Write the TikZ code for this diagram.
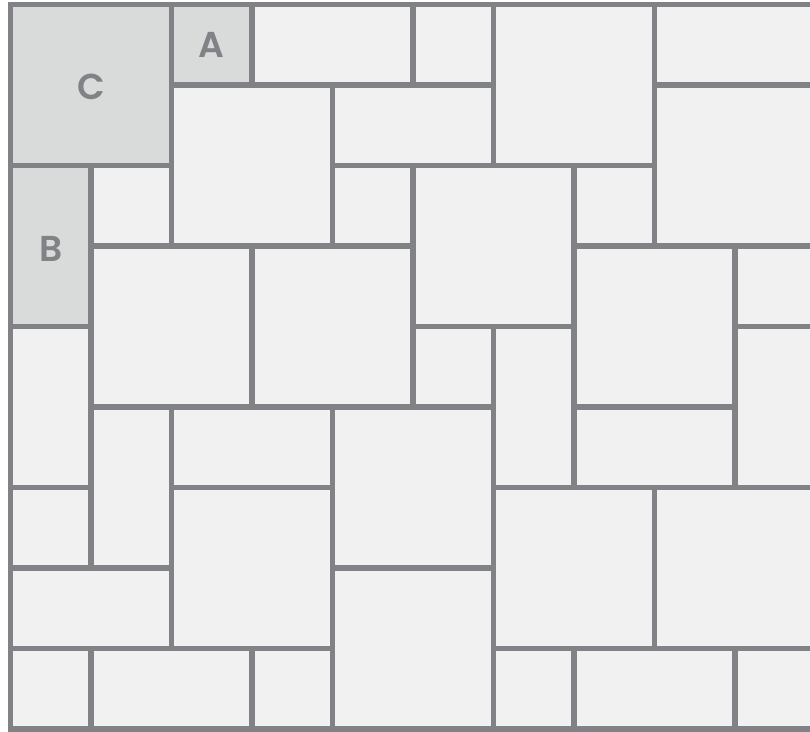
\documentclass[tikz,border=0pt]{standalone}
\usepackage{fontspec}
\newfontfamily\labelfont{Poppins}[UprightFont={* SemiBold}]
\definecolor{tileline}{HTML}{818286}
\definecolor{tilefill}{HTML}{F0F1F0}
\definecolor{tilehi}{HTML}{D9DADA}
\tikzset{
  tile/.style={draw=tileline, fill=tilefill, line width=5.5pt},
  hitile/.style={draw=tileline, fill=tilehi, line width=5.5pt},
  letter/.style={text=tileline, font=\labelfont\fontsize{36}{36}\selectfont, inner sep=0pt}
}
\newcommand{\tl}[5][tile]{\draw[#1] ({10.7+80.5*#2},{4.5+80.5*#3}) rectangle ++({80.5*#4},{80.5*#5});}
\begin{document}
\begin{tikzpicture}[x=1pt,y=-1pt]
\useasboundingbox (0,0) rectangle (810,731);
\fill[white] (0,0) rectangle (810,731);
\clip (0,0) rectangle (810,731);
% row 0
\tl[hitile]{0}{0}{2}{2}
\tl[hitile]{2}{0}{1}{1}
\tl{3}{0}{2}{1}
\tl{5}{0}{1}{1}
\tl{6}{0}{2}{2}
\tl{8}{0}{2}{1}
% row 1
\tl{2}{1}{2}{2}
\tl{4}{1}{2}{1}
\tl{8}{1}{2}{2}
% row 2
\tl[hitile]{0}{2}{1}{2}
\tl{1}{2}{1}{1}
\tl{4}{2}{1}{1}
\tl{5}{2}{2}{2}
\tl{7}{2}{1}{1}
% row 3
\tl{1}{3}{2}{2}
\tl{3}{3}{2}{2}
\tl{7}{3}{2}{2}
\tl{9}{3}{1}{1}
% row 4
\tl{0}{4}{1}{2}
\tl{5}{4}{1}{1}
\tl{6}{4}{1}{2}
\tl{9}{4}{1}{2}
% row 5
\tl{1}{5}{1}{2}
\tl{2}{5}{2}{1}
\tl{4}{5}{2}{2}
\tl{7}{5}{2}{1}
% row 6
\tl{0}{6}{1}{1}
\tl{2}{6}{2}{2}
\tl{6}{6}{2}{2}
\tl{8}{6}{2}{2}
% row 7
\tl{0}{7}{2}{1}
\tl{4}{7}{2}{2}
% row 8
\tl{0}{8}{1}{1}
\tl{1}{8}{2}{1}
\tl{3}{8}{1}{1}
\tl{6}{8}{1}{1}
\tl{7}{8}{2}{1}
\tl{9}{8}{1}{1}
% labels
\node[letter] (lc) at (91.2,87) {C};
\node[letter] (la) at (211.7,45) {A};
\node[letter] (lb) at (50.9,249) {B};
\end{tikzpicture}
\end{document}
